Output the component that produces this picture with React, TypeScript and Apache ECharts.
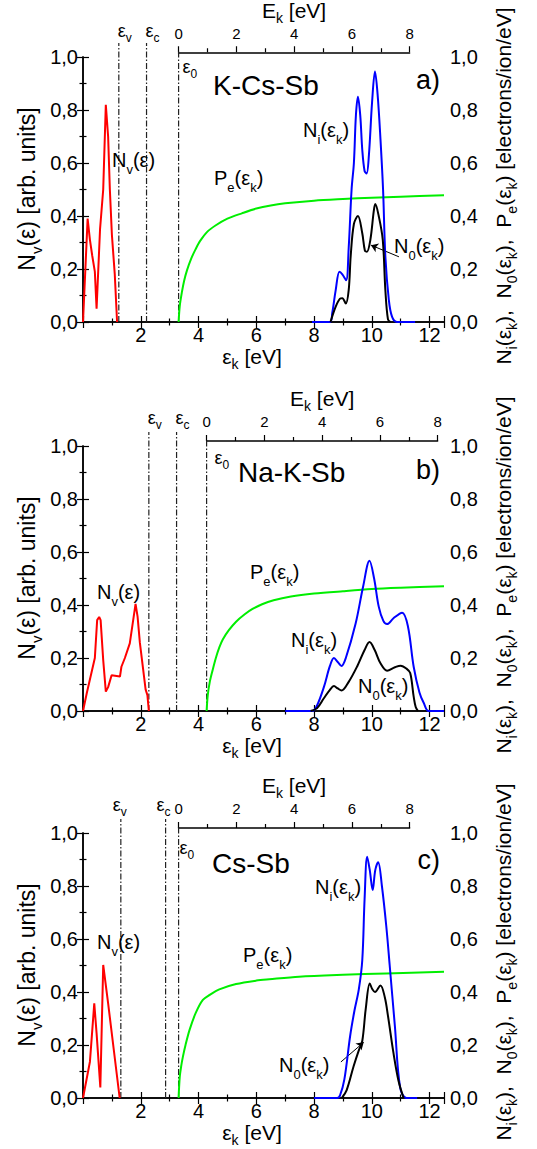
import React, { useEffect, useRef } from 'react';
import * as echarts from 'echarts';

// ---------------- data ----------------
const panelNames = ['K-Cs-Sb', 'Na-K-Sb', 'Cs-Sb'];
const panelTags = ['a)', 'b)', 'c)'];
const epsV = [1.24, 2.28, 1.31];
const epsC = [2.2, 3.24, 2.86];
const eps0 = [3.31, 4.28, 3.31];

const xTickLabels = ['', '2', '4', '6', '8', '10', '12'];
const yTickLabels = ['0,0', '0,2', '0,4', '0,6', '0,8', '1,0'];
const ekTickLabels = ['0', '2', '4', '6', '8'];

type P = [number, number];

const nvA: P[] = [[0,0],[0.16,0.39],[0.24,0.31],[0.32,0.25],[0.41,0.19],[0.47,0.05],[0.59,0.35],[0.7,0.5],[0.79,0.82],[0.87,0.7],[0.93,0.5],[1.0,0.33],[1.1,0.18],[1.18,0]];
const peA: P[] = [[3.31,0],[3.35,0.06],[3.42,0.11],[3.5,0.155],[3.6,0.195],[3.75,0.24],[3.9,0.275],[4.05,0.305],[4.3,0.34],[4.6,0.365],[5.0,0.39],[5.5,0.41],[6.0,0.428],[6.5,0.44],[7.0,0.448],[8.0,0.458],[9.0,0.464],[10.0,0.469],[11.0,0.473],[12.5,0.478]];
const niA: P[] = [[7.93,0],[8.55,0],[8.63,0.034],[8.75,0.12],[8.88,0.19],[8.98,0.18],[9.11,0.158],[9.2,0.28],[9.3,0.5],[9.38,0.6],[9.45,0.78],[9.52,0.85],[9.6,0.78],[9.67,0.65],[9.75,0.57],[9.82,0.56],[9.9,0.63],[10.01,0.83],[10.11,0.945],[10.2,0.86],[10.3,0.69],[10.39,0.5],[10.47,0.246],[10.59,0.083],[10.7,0.02],[10.87,0],[11.5,0]];
const n0A: P[] = [[8.57,0],[8.75,0.058],[8.9,0.088],[8.98,0.09],[9.1,0.07],[9.2,0.12],[9.27,0.25],[9.38,0.37],[9.52,0.4],[9.67,0.335],[9.76,0.27],[9.83,0.265],[9.95,0.31],[10.07,0.42],[10.12,0.445],[10.24,0.4],[10.38,0.31],[10.47,0.12],[10.56,0.01],[10.65,0]];

const nvB: P[] = [[0,0],[0.13,0.067],[0.41,0.2],[0.49,0.343],[0.56,0.355],[0.61,0.343],[0.7,0.192],[0.79,0.073],[0.87,0.09],[0.99,0.135],[1.28,0.13],[1.33,0.167],[1.45,0.2],[1.62,0.255],[1.82,0.404],[1.89,0.356],[1.97,0.257],[2.17,0.08],[2.23,0.06],[2.28,0]];
const peB: P[] = [[4.28,0],[4.32,0.06],[4.39,0.11],[4.49,0.155],[4.6,0.2],[4.72,0.24],[4.84,0.27],[5.05,0.305],[5.3,0.337],[5.6,0.365],[5.87,0.385],[6.2,0.403],[6.6,0.418],[7.2,0.432],[8.0,0.443],[9.0,0.452],[10.0,0.46],[11.0,0.465],[12.5,0.471]];
const niB: P[] = [[7.0,0],[7.94,0],[8.1,0.02],[8.34,0.09],[8.55,0.17],[8.69,0.2],[8.82,0.185],[8.95,0.17],[9.1,0.2],[9.44,0.33],[9.7,0.47],[9.92,0.567],[10.08,0.5],[10.24,0.394],[10.4,0.34],[10.53,0.328],[10.75,0.35],[11.05,0.371],[11.25,0.32],[11.45,0.167],[11.65,0.07],[11.8,0.03],[11.97,0],[12.5,0]];
const n0B: P[] = [[7.88,0],[8.1,0.01],[8.34,0.048],[8.55,0.08],[8.69,0.094],[8.82,0.085],[8.95,0.077],[9.2,0.11],[9.5,0.17],[9.75,0.23],[9.92,0.26],[10.1,0.23],[10.3,0.18],[10.53,0.152],[10.8,0.165],[11.0,0.171],[11.2,0.16],[11.33,0.143],[11.45,0.054],[11.52,0.015],[11.6,0]];

const nvC: P[] = [[0,0],[0.24,0.137],[0.39,0.357],[0.47,0.245],[0.6,0.04],[0.7,0.502],[0.87,0.357],[1.27,0]];
const peC: P[] = [[3.31,0],[3.35,0.08],[3.4,0.12],[3.46,0.156],[3.55,0.2],[3.69,0.257],[3.9,0.32],[4.15,0.37],[4.4,0.39],[4.72,0.41],[5.3,0.43],[6.0,0.443],[6.45,0.448],[7.48,0.458],[9.0,0.465],[10.5,0.47],[12.5,0.476]];
const niC: P[] = [[8.0,0],[8.8,0],[8.9,0.01],[9.05,0.07],[9.25,0.234],[9.4,0.33],[9.55,0.41],[9.67,0.52],[9.75,0.75],[9.84,0.91],[9.93,0.86],[10.03,0.785],[10.12,0.86],[10.22,0.89],[10.35,0.8],[10.5,0.65],[10.62,0.5],[10.8,0.27],[10.98,0.04],[11.2,0],[11.57,0]];
const n0C: P[] = [[8.96,0],[9.13,0.03],[9.37,0.12],[9.55,0.18],[9.67,0.215],[9.79,0.336],[9.93,0.432],[10.02,0.41],[10.11,0.4],[10.3,0.425],[10.45,0.38],[10.56,0.31],[10.75,0.17],[10.92,0.067],[11.1,0]];

const nvData = [nvA, nvB, nvC];
const peData = [peA, peB, peC];
const niData = [niA, niB, niC];
const n0Data = [n0A, n0B, n0C];
// arrows pointing at N0 curve (data coords: from, to)
const n0Arrows: (P[] | null)[] = [[[10.94, 0.246], [9.97, 0.29]], null, [[8.93, 0.136], [9.72, 0.21]]];

// ---------------- layout ----------------
const W = 537, H = 1149;
const PLOT_LEFT = 83, PLOT_W = 361, PLOT_H = 265;
const PANEL_TOPS = [57, 446, 833];
const X_MAX = 12.5;
const PX_PER_EV = PLOT_W / X_MAX;
const EK_OFFSET = 6;
const FONT = "Arial, 'Liberation Sans', Helvetica, sans-serif";

const annot = [
  { name: [130, 28], tag: [357, 23], ni: [220, 73], n0: [311, 189], pe: [131, 121], nv: [29, 103], e0: [4, 10], epsDx: [-1, -1], epsY: -26 },
  { name: [155, 26], tag: [357, 24], ni: [208, 194], n0: [275, 240], pe: [167, 126], nv: [14, 146], e0: [8, 12], epsDx: [-1, -1], epsY: -28 },
  { name: [129, 30], tag: [357, 27], ni: [232, 54], n0: [196, 232], pe: [160, 122], nv: [14, 109], e0: [1, 15], epsDx: [-8, -9], epsY: -28 },
];

function rich(base: number, sub: number, lh: number) {
  return {
    n: { fontSize: base, fontFamily: FONT, color: '#000', lineHeight: lh },
    s: { fontSize: sub, fontFamily: FONT, color: '#000', verticalAlign: 'bottom', lineHeight: sub + 2 },
  };
}
const sub = (a: string, b: string) => `{n|${a}}{s|${b}}`;
const NI = sub('N', 'i') + sub('(ε', 'k') + '{n|)}';
const N0 = sub('N', '0') + sub('(ε', 'k') + '{n|)}';
const PE = sub('P', 'e') + sub('(ε', 'k') + '{n|)}';
const NV = sub('N', 'v') + '{n|(ε)}';

function txt(x: number, y: number, text: string, r: any, align = 'left', rotation = 0) {
  return {
    type: 'text', x, y, rotation, z: 100,
    style: { text, rich: r, align, verticalAlign: 'middle', fill: '#000', font: `20px ${FONT}` },
  };
}

function buildOption() {
  const grid: any[] = [], xAxis: any[] = [], yAxis: any[] = [], series: any[] = [], graphic: any[] = [];
  const axisLine = { show: true, lineStyle: { color: '#000', width: 1.5 } };
  const yFmt = (v: number) => yTickLabels[Math.round(v / 0.2)] ?? '';
  const xFmt = (v: number) => (Math.abs(v / 2 - Math.round(v / 2)) < 1e-6 ? xTickLabels[Math.round(v / 2)] ?? '' : '');
  const ekFmt = (v: number) => ekTickLabels[Math.round(v / 2)] ?? '';
  const labelStyle = { color: '#000', fontSize: 20, fontFamily: FONT };
  const tick = { show: true, inside: true, length: 6, lineStyle: { color: '#000', width: 1.2 } };
  const minor = { show: true, splitNumber: 2, length: 3.5, lineStyle: { color: '#000', width: 1.2 } };

  for (let i = 0; i < 3; i++) {
    const top = PANEL_TOPS[i];
    const g = 2 * i;
    grid.push({ left: PLOT_LEFT, top, width: PLOT_W, height: PLOT_H });
    grid.push({ left: PLOT_LEFT + eps0[i] * PX_PER_EV, top: top - EK_OFFSET, width: 8 * PX_PER_EV, height: 1 });

    xAxis.push({
      type: 'value', gridIndex: g, position: 'bottom', min: 0, max: X_MAX, interval: 2,
      axisLine, splitLine: { show: false }, axisTick: tick, minorTick: minor,
      axisLabel: { ...labelStyle, margin: 4, lineHeight: 18, formatter: xFmt, showMaxLabel: false },
    });
    xAxis.push({
      type: 'value', gridIndex: g, position: 'top', min: 0, max: X_MAX, interval: 2,
      axisLine, splitLine: { show: false }, axisTick: tick, minorTick: minor,
      axisLabel: { show: false },
    });
    xAxis.push({
      type: 'value', gridIndex: g + 1, position: 'top', min: 0, max: 8, interval: 2,
      axisLine, splitLine: { show: false },
      axisTick: { ...tick, inside: false },
      minorTick: { ...minor, length: 4 },
      axisLabel: { color: '#000', fontSize: 15, fontFamily: FONT, margin: 11, formatter: ekFmt },
      name: sub('E', 'k') + '{n| [eV]}', nameLocation: 'middle', nameGap: 21,
      nameTextStyle: { rich: rich(21, 14, 30) },
    });

    const yBase = {
      type: 'value', gridIndex: g, min: 0, max: 1, interval: 0.2,
      axisLine, splitLine: { show: false }, axisTick: tick, minorTick: minor,
    };
    yAxis.push({ ...yBase, position: 'left', axisLabel: { ...labelStyle, margin: 5, formatter: yFmt } });
    yAxis.push({ ...yBase, position: 'right', axisLabel: { ...labelStyle, margin: 6, formatter: yFmt } });
    yAxis.push({ type: 'value', gridIndex: g + 1, show: false, min: 0, max: 1 });

    const xi = 3 * i, yi = 3 * i;
    const line = (data: P[], color: string, smooth: number | boolean, extra: any = {}) => ({
      type: 'line', xAxisIndex: xi, yAxisIndex: yi, data, symbol: 'none', showSymbol: false,
      smooth, lineStyle: { color, width: 2 }, z: 5, silent: true, ...extra,
    });
    series.push(line(nvData[i], '#ff0000', false));
    series.push(line(peData[i], '#00ee00', 0.3));
    series.push(line(niData[i], '#0000ff', 0.35));
    const arrow = n0Arrows[i];
    series.push(line(n0Data[i], '#000000', 0.35, arrow ? {
      markLine: {
        silent: true, symbol: ['none', 'arrow'], symbolSize: 7,
        lineStyle: { color: '#000', width: 1, type: 'solid' }, label: { show: false },
        data: [[{ coord: arrow[0] }, { coord: arrow[1] }]],
      },
    } : {}));
    // dash-dot level lines
    const topLong = 1 + 14 / PLOT_H, topShort = 1 + EK_OFFSET / PLOT_H;
    [[epsV[i], topLong], [epsC[i], topLong], [eps0[i], topShort]].forEach(([e, t]) => {
      series.push({
        type: 'line', xAxisIndex: xi, yAxisIndex: yi, data: [[e, 0], [e, t]], symbol: 'none', clip: false,
        lineStyle: { color: '#222', width: 1.2, type: [6, 2, 1.5, 2] }, z: 4, silent: true,
      });
    });

    // annotations
    const A = annot[i];
    const ox = PLOT_LEFT, oy = top;
    const r20 = rich(20, 13, 32);
    graphic.push({ type: 'text', x: ox + A.name[0], y: oy + A.name[1], z: 100,
      style: { text: panelNames[i], fill: '#000', font: `28px ${FONT}`, align: 'left', verticalAlign: 'middle' } });
    graphic.push({ type: 'text', x: ox + A.tag[0], y: oy + A.tag[1], z: 100,
      style: { text: panelTags[i], fill: '#000', font: `27px ${FONT}`, align: 'right', verticalAlign: 'middle' } });
    graphic.push(txt(ox + A.ni[0], oy + A.ni[1], NI, r20));
    graphic.push(txt(ox + A.n0[0], oy + A.n0[1], N0, r20));
    graphic.push(txt(ox + A.pe[0], oy + A.pe[1], PE, r20));
    graphic.push(txt(ox + A.nv[0], oy + A.nv[1], NV, r20));
    const r18 = rich(18, 12, 26);
    const x0 = PLOT_LEFT + eps0[i] * PX_PER_EV;
    graphic.push(txt(x0 + A.e0[0], oy + A.e0[1], sub('ε', '0'), r18));
    graphic.push(txt(PLOT_LEFT + epsV[i] * PX_PER_EV + A.epsDx[0], oy + A.epsY, sub('ε', 'v'), r18));
    graphic.push(txt(PLOT_LEFT + epsC[i] * PX_PER_EV + A.epsDx[1], oy + A.epsY, sub('ε', 'c'), r18));

    // axis titles
    graphic.push(txt(252, oy + PLOT_H + 34, sub('ε', 'k') + '{n| [eV]}', rich(21, 14, 29), 'center'));
    graphic.push(txt(27, oy + 132, NV + '{n| [arb. units]}', rich(23, 15, 34), 'center', Math.PI / 2));
    graphic.push(txt(503, oy + 129, NI + '{n|,  }' + N0 + '{n|,  }' + PE + '{n| [electrons/ion/eV]}', rich(21, 14, 31), 'center', Math.PI / 2));
  }

  return { animation: false, backgroundColor: '#fff', grid, xAxis, yAxis, series, graphic };
}

export default function App() {
  const ref = useRef<HTMLDivElement>(null);
  useEffect(() => {
    if (!ref.current) return;
    const chart = echarts.init(ref.current, undefined, { renderer: 'svg' });
    chart.setOption(buildOption() as any);
    return () => chart.dispose();
  }, []);
  return <div ref={ref} style={{ position: 'fixed', left: 0, top: 0, width: W, height: H, background: '#fff' }} />;
}
